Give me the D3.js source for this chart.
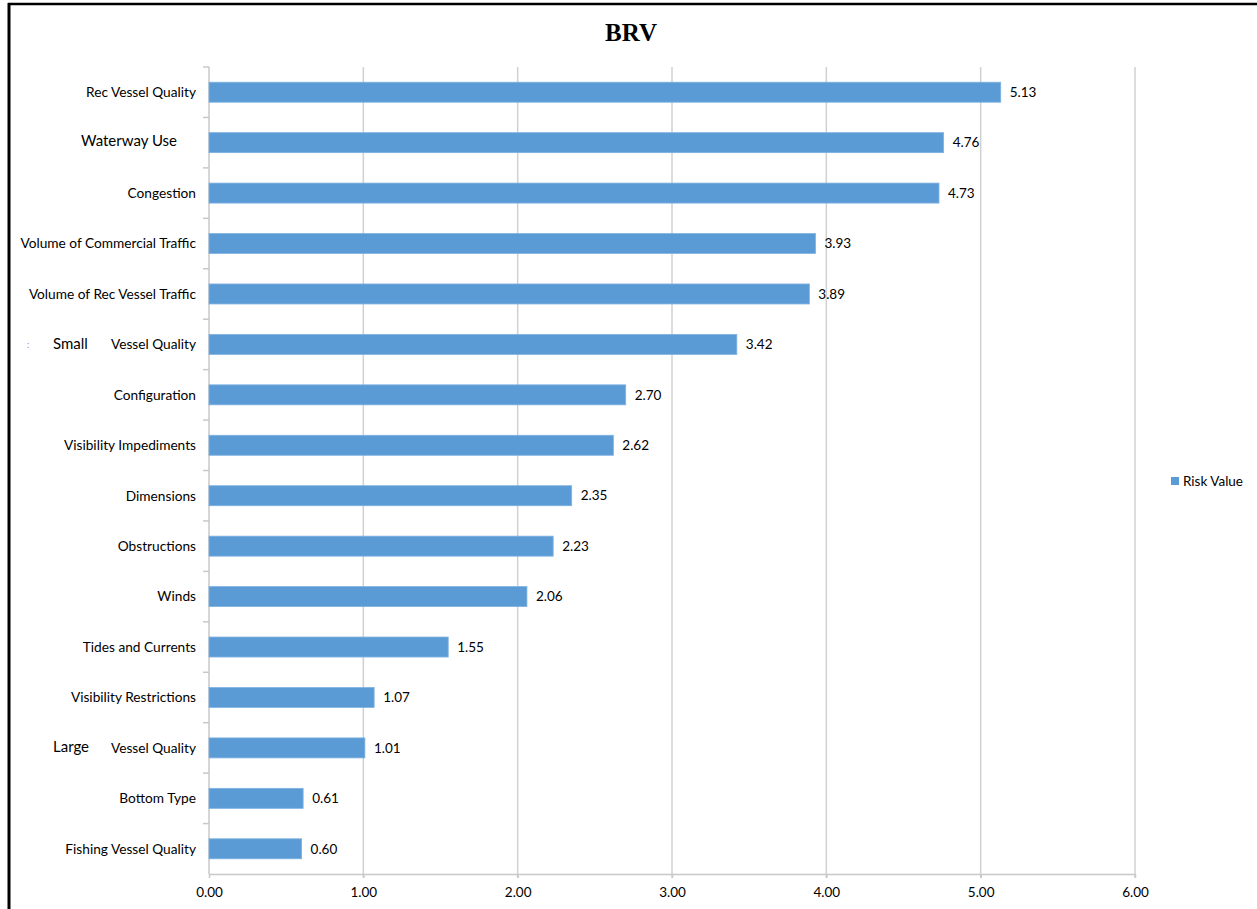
<!DOCTYPE html>
<html>
<head>
<meta charset="utf-8">
<script src="https://cdn.jsdelivr.net/npm/d3@7"></script>
<style>
  body { margin: 0; background: #fff; }
  svg { display: block; }
</style>
</head>
<body>
<div id="chart"></div>
<script>
// categories top to bottom
const categories = [
    "Rec Vessel Quality", "Waterway Use", "Congestion", "Volume of Commercial Traffic",
    "Volume of Rec Vessel Traffic", "Small Vessel Quality", "Configuration",
    "Visibility Impediments", "Dimensions", "Obstructions", "Winds", "Tides and Currents",
    "Visibility Restrictions", "Large Vessel Quality", "Bottom Type", "Fishing Vessel Quality"
];
const riskValues = [5.13, 4.76, 4.73, 3.93, 3.89, 3.42, 2.70, 2.62, 2.35, 2.23, 2.06, 1.55, 1.07, 1.01, 0.61, 0.60];
const xTicks = [0, 1, 2, 3, 4, 5, 6];
const seriesName = "Risk Value";

const width = 1257, height = 909;
const margin = {top: 67, right: 122, bottom: 35, left: 209};
const barColor = "#5b9bd5";
const font = "Lato, 'Open Sans', sans-serif";

const svg = d3.select("#chart").append("svg")
    .attr("width", width)
    .attr("height", height)
    .attr("font-family", font);

// frame lines left and top
svg.append("line").attr("x1", 9).attr("x2", 9).attr("y1", 3).attr("y2", height)
    .attr("stroke", "#000").attr("stroke-width", 3);
svg.append("line").attr("x1", 8).attr("x2", width).attr("y1", 4).attr("y2", 4)
    .attr("stroke", "#000").attr("stroke-width", 2.5);

const x = d3.scaleLinear().domain([0, 6]).range([margin.left, width - margin.right]);
const band = d3.scaleBand().domain(categories).range([margin.top, height - margin.bottom]);

// gridlines
svg.append("g")
    .selectAll("line")
    .data(xTicks.slice(1))
    .join("line")
    .attr("x1", d => x(d)).attr("x2", d => x(d))
    .attr("y1", margin.top).attr("y2", height - margin.bottom + 4)
    .attr("stroke", "#d0d0d0").attr("stroke-width", 1.5);

// x axis
const xAxis = svg.append("g")
    .attr("transform", `translate(0,${height - margin.bottom})`)
    .call(d3.axisBottom(x).tickValues(xTicks).tickFormat(d3.format(".2f")).tickSize(4).tickSizeOuter(0));
xAxis.attr("font-family", font);
xAxis.select(".domain").attr("stroke", "#c8c8c8").attr("stroke-width", 1.5);
xAxis.selectAll(".tick line").attr("stroke", "#c8c8c8").attr("stroke-width", 1.5);
xAxis.selectAll(".tick text").attr("font-size", 13.5).attr("fill", "#000").attr("dy", "1.2em");

// y axis line with ticks on band boundaries
svg.append("line")
    .attr("x1", margin.left).attr("x2", margin.left)
    .attr("y1", margin.top).attr("y2", height - margin.bottom)
    .attr("stroke", "#c8c8c8").attr("stroke-width", 1.5);
svg.append("g")
    .selectAll("line")
    .data(categories)
    .join("line")
    .attr("x1", margin.left - 6).attr("x2", margin.left)
    .attr("y1", d => band(d)).attr("y2", d => band(d))
    .attr("stroke", "#c8c8c8").attr("stroke-width", 1.5);

// bars
svg.append("g")
    .selectAll("rect")
    .data(categories)
    .join("rect")
    .attr("x", x(0))
    .attr("y", d => band(d) + band.bandwidth() / 2 - 10)
    .attr("width", (d, i) => x(riskValues[i]) - x(0))
    .attr("height", 20)
    .attr("fill", barColor)
    .attr("stroke", "#7fb2e0")
    .attr("stroke-width", 0.8);

// value labels
svg.append("g")
    .selectAll("text")
    .data(categories)
    .join("text")
    .attr("x", (d, i) => x(riskValues[i]) + 9)
    .attr("y", d => band(d) + band.bandwidth() / 2)
    .attr("dy", "0.35em")
    .attr("font-size", 13.5)
    .text((d, i) => riskValues[i].toFixed(2));

// category labels; a few are split the way the original was edited
const labels = svg.append("g");
categories.forEach(c => {
    const cy = band(c) + band.bandwidth() / 2;
    if (c === "Waterway Use") {
        labels.append("text").attr("x", 177).attr("y", cy - 2).attr("dy", "0.35em")
            .attr("text-anchor", "end").attr("font-size", 15).text(c);
    } else if (c === "Small Vessel Quality" || c === "Large Vessel Quality") {
        const [first, ...rest] = c.split(" ");
        labels.append("text").attr("x", 53).attr("y", cy - 1).attr("dy", "0.35em")
            .attr("font-size", 15).text(first);
        labels.append("text").attr("x", 196).attr("y", cy).attr("dy", "0.35em")
            .attr("text-anchor", "end").attr("font-size", 13.7).text(rest.join(" "));
        if (first === "Small") {
            labels.append("text").attr("x", 27).attr("y", cy).attr("dy", "0.35em")
                .attr("font-size", 9).attr("fill", "#888").text(":");
        }
    } else {
        labels.append("text").attr("x", 196).attr("y", cy).attr("dy", "0.35em")
            .attr("text-anchor", "end").attr("font-size", 13.7).text(c);
    }
});

// title
svg.append("text")
    .attr("x", 631).attr("y", 41)
    .attr("text-anchor", "middle")
    .attr("font-family", "'Liberation Serif', 'Times New Roman', serif")
    .attr("font-weight", "bold")
    .attr("font-size", 25)
    .text("BRV");

// legend
const legend = svg.append("g").attr("transform", "translate(1171,477)");
legend.append("rect").attr("width", 8).attr("height", 8).attr("fill", barColor);
legend.append("text").attr("x", 12).attr("y", 4).attr("dy", "0.35em").attr("font-size", 13.5).text(seriesName);
</script>
</body>
</html>
